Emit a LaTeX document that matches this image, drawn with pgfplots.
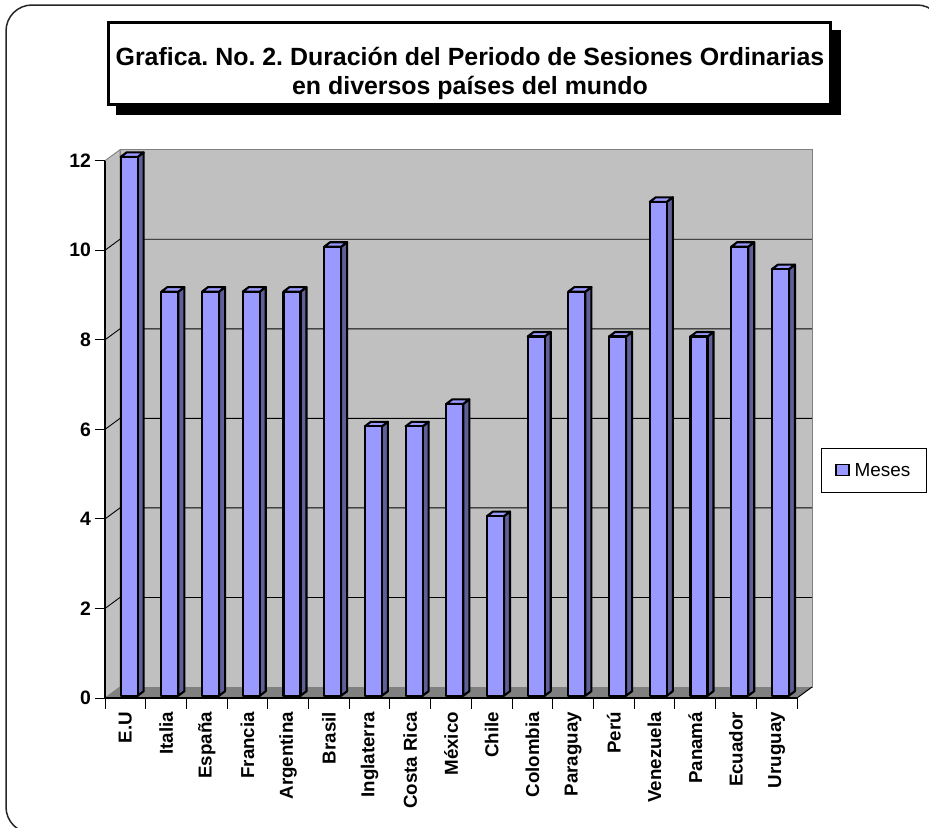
\documentclass[border=0pt]{standalone}
\usepackage{pgfplots}
\pgfplotsset{compat=1.18}
\usepackage{fontspec}
\setmainfont{Liberation Sans}
\frenchspacing
\definecolor{barfront}{HTML}{9999FF}
\definecolor{barside}{HTML}{5F5F99}
\definecolor{bartop}{HTML}{9999FF}
\definecolor{wall}{HTML}{C0C0C0}
\definecolor{floorc}{HTML}{808080}

\pgfdeclareplotmark{bar3d}{%
  \pgfmathsetmacro\bt{2.3+\myval*0.125}%
  \pgfmathsetmacro\bb{2.3-\myval*44.775}%
  \pgfmathsetmacro\btt{\bt+4.5}%
  \pgfmathsetmacro\bbb{\bb+4.5}%
  \pgfsetlinewidth{2.1bp}%
  \pgfsetroundjoin
  \pgfsetstrokecolor{black}%
  \pgfsetfillcolor{barside}%
  \pgfpathmoveto{\pgfpoint{12.3bp}{\bb bp}}%
  \pgfpathlineto{\pgfpoint{18.3bp}{\bbb bp}}%
  \pgfpathlineto{\pgfpoint{18.3bp}{\btt bp}}%
  \pgfpathlineto{\pgfpoint{12.3bp}{\bt bp}}%
  \pgfpathclose
  \pgfusepath{fill,stroke}%
  \pgfsetfillcolor{bartop}%
  \pgfpathmoveto{\pgfpoint{-4.7bp}{\bt bp}}%
  \pgfpathlineto{\pgfpoint{1.3bp}{\btt bp}}%
  \pgfpathlineto{\pgfpoint{18.3bp}{\btt bp}}%
  \pgfpathlineto{\pgfpoint{12.3bp}{\bt bp}}%
  \pgfpathclose
  \pgfusepath{fill,stroke}%
  \pgfsetfillcolor{barfront}%
  \pgfpathrectanglecorners{\pgfpoint{-4.7bp}{\bb bp}}{\pgfpoint{12.3bp}{\bt bp}}%
  \pgfusepath{fill,stroke}%
}

\begin{document}
\begin{tikzpicture}
\path[use as bounding box] (0,0) rectangle (929bp,-828bp);
\clip (0,0) rectangle (929bp,-828bp);
\fill[white] (0,0) rectangle (929bp,-828bp);
\begin{axis}[
  at={(105bp,-698bp)}, anchor=south west,
  scale only axis, width=692bp, height=537.3bp,
  xmin=0, xmax=17, ymin=0, ymax=12,
  clip=false,
  axis on top,
  axis lines*=left,
  axis line style={black, line width=1.2bp},
  ytick={0,2,...,12},
  tick align=outside,
  major tick length=10.5bp,
  tick style={black, line width=1bp},
  xtick={0,1,...,17},
  xticklabels={E.U, Italia, España, Francia, Argentina, Brasil, Inglaterra, Costa Rica, México, Chile, Colombia, Paraguay, Perú, Venezuela, Panamá, Ecuador, Uruguay, {}},
  xticklabel style={xshift=20.353bp, rotate=90, anchor=east, font=\fontsize{18.8}{18.8}\selectfont\bfseries},
  yticklabel style={font=\fontsize{19.5}{19.5}\selectfont\bfseries},
  /pgf/number format/assume math mode=true,
  legend style={draw=black, line width=0.9bp, fill=white, at={(1.0347,0.4234)}, anchor=west,
    inner xsep=14bp, inner ysep=13bp, font=\fontsize{19}{19}\selectfont,
    nodes={inner sep=2bp},
    /tikz/every odd column/.append style={column sep=3bp}},
  legend cell align=left,
]
% back wall
\fill[wall, draw=floorc, line width=0.9bp] ([shift={(15bp,11bp)}]axis cs:0,0) rectangle ([shift={(15bp,11bp)}]axis cs:17,12);
% left wall
\fill[wall, draw=floorc, line width=0.9bp] (axis cs:0,0) -- (axis cs:0,12) -- ([shift={(15bp,11bp)}]axis cs:0,12) -- ([shift={(15bp,11bp)}]axis cs:0,0) -- cycle;
% floor
\fill[floorc] (axis cs:0,0) -- (axis cs:17,0) -- ([shift={(15bp,11bp)}]axis cs:17,0) -- ([shift={(15bp,11bp)}]axis cs:0,0) -- cycle;
\draw[black, line width=1bp] (axis cs:17,0) -- ([shift={(15bp,11bp)}]axis cs:17,0);
% grid lines
\pgfplotsinvokeforeach{2,4,6,8,10}{
  \draw[black, line width=0.9bp] (axis cs:0,#1) -- ([shift={(15bp,11bp)}]axis cs:0,#1) -- ([shift={(15bp,11bp)}]axis cs:17,#1);
}
\addplot[scatter, only marks, mark=bar3d,
  scatter/@pre marker code/.code={}, scatter/@post marker code/.code={},
  visualization depends on={rawy \as \myval},
  legend image code/.code={\draw[fill=barfront, line width=1.6bp] (0bp,-5bp) rectangle (12.5bp,6bp);}]
coordinates {
(0.5,12) (1.5,9) (2.5,9) (3.5,9) (4.5,9) (5.5,10) (6.5,6) (7.5,6) (8.5,6.5)
(9.5,4) (10.5,8) (11.5,9) (12.5,8) (13.5,11) (14.5,8) (15.5,10) (16.5,9.5)
};
\addlegendentry{Meses}
\end{axis}
% title box
\fill[black] (116bp,-30bp) rectangle (841bp,-115bp);
\draw[black, line width=3bp, fill=white] (108.5bp,-22.5bp) rectangle (830.5bp,-104.5bp);
\node[anchor=base, font=\fontsize{25}{25}\selectfont\bfseries, inner sep=0pt] at (470bp,-65bp) {Grafica. No. 2. Duración del Periodo de Sesiones Ordinarias};
\node[anchor=base, font=\fontsize{25}{25}\selectfont\bfseries, inner sep=0pt] at (470bp,-94bp) {en diversos países del mundo};
% outer border
\draw[black!85, line width=1.5bp, rounded corners=26bp] (6bp,-5bp) rectangle (943bp,-833bp);
\end{tikzpicture}
\end{document}
